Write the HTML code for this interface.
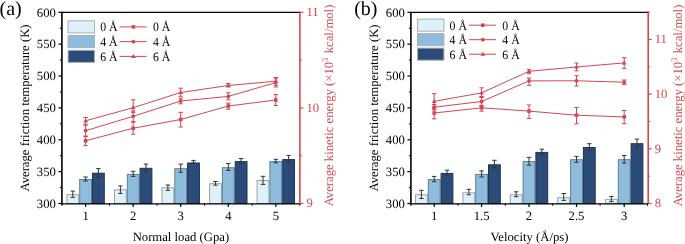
<!DOCTYPE html>
<html><head><meta charset="utf-8"><style>
html,body{margin:0;padding:0;background:#fff;overflow:hidden}
svg{display:block;will-change:transform}
text{font-family:'Liberation Serif', serif;font-size:12.7px;fill:#000;text-rendering:geometricPrecision}
</style></head><body>
<svg width="685" height="244" viewBox="0 0 685 244">

<rect x="66.90" y="194.70" width="11.80" height="8.80" fill="#dff1f8" stroke="#9aa4a8" stroke-width="1"/>
<rect x="79.70" y="179.50" width="11.80" height="24.00" fill="#8ebcdd" stroke="#5f7f98" stroke-width="1"/>
<rect x="92.50" y="173.20" width="11.80" height="30.30" fill="#2b4b79" stroke="#1d3355" stroke-width="1"/>
<path d="M72.80 191.10V197.30M70.60 191.10H75.00M70.60 197.30H75.00" stroke="#333" stroke-width="1" fill="none"/>
<path d="M85.60 177.00V181.00M83.40 177.00H87.80M83.40 181.00H87.80" stroke="#333" stroke-width="1" fill="none"/>
<path d="M98.40 168.60V177.40M96.20 168.60H100.60M96.20 177.40H100.60" stroke="#333" stroke-width="1" fill="none"/>
<rect x="114.50" y="189.80" width="11.80" height="13.70" fill="#dff1f8" stroke="#9aa4a8" stroke-width="1"/>
<rect x="127.30" y="174.40" width="11.80" height="29.10" fill="#8ebcdd" stroke="#5f7f98" stroke-width="1"/>
<rect x="140.10" y="168.30" width="11.80" height="35.20" fill="#2b4b79" stroke="#1d3355" stroke-width="1"/>
<path d="M120.40 186.00V193.40M118.20 186.00H122.60M118.20 193.40H122.60" stroke="#333" stroke-width="1" fill="none"/>
<path d="M133.20 171.30V176.40M131.00 171.30H135.40M131.00 176.40H135.40" stroke="#333" stroke-width="1" fill="none"/>
<path d="M146.00 164.10V171.30M143.80 164.10H148.20M143.80 171.30H148.20" stroke="#333" stroke-width="1" fill="none"/>
<rect x="162.00" y="187.70" width="11.80" height="15.80" fill="#dff1f8" stroke="#9aa4a8" stroke-width="1"/>
<rect x="174.80" y="168.70" width="11.80" height="34.80" fill="#8ebcdd" stroke="#5f7f98" stroke-width="1"/>
<rect x="187.60" y="163.00" width="11.80" height="40.50" fill="#2b4b79" stroke="#1d3355" stroke-width="1"/>
<path d="M167.90 185.00V190.30M165.70 185.00H170.10M165.70 190.30H170.10" stroke="#333" stroke-width="1" fill="none"/>
<path d="M180.70 164.10V172.30M178.50 164.10H182.90M178.50 172.30H182.90" stroke="#333" stroke-width="1" fill="none"/>
<path d="M193.50 160.40V163.00M191.30 160.40H195.70M191.30 163.00H195.70" stroke="#333" stroke-width="1" fill="none"/>
<rect x="209.60" y="183.70" width="11.80" height="19.80" fill="#dff1f8" stroke="#9aa4a8" stroke-width="1"/>
<rect x="222.40" y="167.70" width="11.80" height="35.80" fill="#8ebcdd" stroke="#5f7f98" stroke-width="1"/>
<rect x="235.20" y="161.60" width="11.80" height="41.90" fill="#2b4b79" stroke="#1d3355" stroke-width="1"/>
<path d="M215.50 181.50V185.20M213.30 181.50H217.70M213.30 185.20H217.70" stroke="#333" stroke-width="1" fill="none"/>
<path d="M228.30 163.50V170.40M226.10 163.50H230.50M226.10 170.40H230.50" stroke="#333" stroke-width="1" fill="none"/>
<path d="M241.10 158.60V163.50M238.90 158.60H243.30M238.90 163.50H243.30" stroke="#333" stroke-width="1" fill="none"/>
<rect x="257.10" y="180.50" width="11.80" height="23.00" fill="#dff1f8" stroke="#9aa4a8" stroke-width="1"/>
<rect x="269.90" y="161.60" width="11.80" height="41.90" fill="#8ebcdd" stroke="#5f7f98" stroke-width="1"/>
<rect x="282.70" y="159.60" width="11.80" height="43.90" fill="#2b4b79" stroke="#1d3355" stroke-width="1"/>
<path d="M263.00 176.30V184.40M260.80 176.30H265.20M260.80 184.40H265.20" stroke="#333" stroke-width="1" fill="none"/>
<path d="M275.80 159.30V162.80M273.60 159.30H278.00M273.60 162.80H278.00" stroke="#333" stroke-width="1" fill="none"/>
<path d="M288.60 155.40V162.80M286.40 155.40H290.80M286.40 162.80H290.80" stroke="#333" stroke-width="1" fill="none"/>
<polyline points="85.60,140.80 133.20,128.20 180.70,119.50 228.30,106.00 275.80,100.00" fill="none" stroke="#d24852" stroke-width="1"/>
<path d="M85.60 136.60V145.60M83.40 136.60H87.80M83.40 145.60H87.80" stroke="#d24852" stroke-width="1" fill="none"/>
<rect x="83.80" y="139.00" width="3.6" height="3.6" fill="#d24852"/>
<path d="M133.20 122.20V134.20M131.00 122.20H135.40M131.00 134.20H135.40" stroke="#d24852" stroke-width="1" fill="none"/>
<rect x="131.40" y="126.40" width="3.6" height="3.6" fill="#d24852"/>
<path d="M180.70 112.30V127.00M178.50 112.30H182.90M178.50 127.00H182.90" stroke="#d24852" stroke-width="1" fill="none"/>
<rect x="178.90" y="117.70" width="3.6" height="3.6" fill="#d24852"/>
<path d="M228.30 103.20V109.20M226.10 103.20H230.50M226.10 109.20H230.50" stroke="#d24852" stroke-width="1" fill="none"/>
<rect x="226.50" y="104.20" width="3.6" height="3.6" fill="#d24852"/>
<path d="M275.80 94.60V105.50M273.60 94.60H278.00M273.60 105.50H278.00" stroke="#d24852" stroke-width="1" fill="none"/>
<rect x="274.00" y="98.20" width="3.6" height="3.6" fill="#d24852"/>
<polyline points="85.60,130.70 133.20,116.30 180.70,101.00 228.30,96.40 275.80,82.60" fill="none" stroke="#d24852" stroke-width="1"/>
<path d="M85.60 125.30V136.00M83.40 125.30H87.80M83.40 136.00H87.80" stroke="#d24852" stroke-width="1" fill="none"/>
<circle cx="85.60" cy="130.70" r="1.9" fill="#d24852"/>
<path d="M133.20 111.10V121.50M131.00 111.10H135.40M131.00 121.50H135.40" stroke="#d24852" stroke-width="1" fill="none"/>
<circle cx="133.20" cy="116.30" r="1.9" fill="#d24852"/>
<path d="M180.70 98.20V103.80M178.50 98.20H182.90M178.50 103.80H182.90" stroke="#d24852" stroke-width="1" fill="none"/>
<circle cx="180.70" cy="101.00" r="1.9" fill="#d24852"/>
<path d="M228.30 92.80V99.80M226.10 92.80H230.50M226.10 99.80H230.50" stroke="#d24852" stroke-width="1" fill="none"/>
<circle cx="228.30" cy="96.40" r="1.9" fill="#d24852"/>
<path d="M275.80 78.20V87.00M273.60 78.20H278.00M273.60 87.00H278.00" stroke="#d24852" stroke-width="1" fill="none"/>
<circle cx="275.80" cy="82.60" r="1.9" fill="#d24852"/>
<polyline points="85.60,120.80 133.20,107.70 180.70,92.50 228.30,85.50 275.80,81.20" fill="none" stroke="#d24852" stroke-width="1"/>
<path d="M85.60 117.50V124.30M83.40 117.50H87.80M83.40 124.30H87.80" stroke="#d24852" stroke-width="1" fill="none"/>
<path d="M85.60 118.40L88.00 122.40L83.20 122.40Z" fill="#d24852"/>
<path d="M133.20 99.80V112.40M131.00 99.80H135.40M131.00 112.40H135.40" stroke="#d24852" stroke-width="1" fill="none"/>
<path d="M133.20 105.30L135.60 109.30L130.80 109.30Z" fill="#d24852"/>
<path d="M180.70 88.20V96.30M178.50 88.20H182.90M178.50 96.30H182.90" stroke="#d24852" stroke-width="1" fill="none"/>
<path d="M180.70 90.10L183.10 94.10L178.30 94.10Z" fill="#d24852"/>
<path d="M228.30 83.50V87.00M226.10 83.50H230.50M226.10 87.00H230.50" stroke="#d24852" stroke-width="1" fill="none"/>
<path d="M228.30 83.10L230.70 87.10L225.90 87.10Z" fill="#d24852"/>
<path d="M275.80 77.50V85.20M273.60 77.50H278.00M273.60 85.20H278.00" stroke="#d24852" stroke-width="1" fill="none"/>
<path d="M275.80 78.80L278.20 82.80L273.40 82.80Z" fill="#d24852"/>
<path d="M61.90 12.35H299.90" stroke="#000" stroke-width="1.2"/>
<path d="M61.90 203.80H299.90" stroke="#000" stroke-width="1.3"/>
<path d="M61.90 11.70V205.50" stroke="#000" stroke-width="1.6"/>
<path d="M299.90 11.60V204.20" stroke="#d24852" stroke-width="1.6"/>
<path d="M58.40 203.50H61.90" stroke="#000" stroke-width="1.2"/>
<text x="55.90" y="207.80" text-anchor="end">300</text>
<path d="M59.90 187.57H61.90" stroke="#000" stroke-width="1"/>
<path d="M58.40 171.63H61.90" stroke="#000" stroke-width="1.2"/>
<text x="55.90" y="175.93" text-anchor="end">350</text>
<path d="M59.90 155.70H61.90" stroke="#000" stroke-width="1"/>
<path d="M58.40 139.77H61.90" stroke="#000" stroke-width="1.2"/>
<text x="55.90" y="144.07" text-anchor="end">400</text>
<path d="M59.90 123.83H61.90" stroke="#000" stroke-width="1"/>
<path d="M58.40 107.90H61.90" stroke="#000" stroke-width="1.2"/>
<text x="55.90" y="112.20" text-anchor="end">450</text>
<path d="M59.90 91.97H61.90" stroke="#000" stroke-width="1"/>
<path d="M58.40 76.03H61.90" stroke="#000" stroke-width="1.2"/>
<text x="55.90" y="80.33" text-anchor="end">500</text>
<path d="M59.90 60.10H61.90" stroke="#000" stroke-width="1"/>
<path d="M58.40 44.17H61.90" stroke="#000" stroke-width="1.2"/>
<text x="55.90" y="48.47" text-anchor="end">550</text>
<path d="M59.90 28.23H61.90" stroke="#000" stroke-width="1"/>
<path d="M58.40 12.30H61.90" stroke="#000" stroke-width="1.2"/>
<text x="55.90" y="16.60" text-anchor="end">600</text>
<path d="M85.60 203.50V207.00" stroke="#000" stroke-width="1.2"/>
<text x="85.60" y="220.00" text-anchor="middle">1</text>
<path d="M133.20 203.50V207.00" stroke="#000" stroke-width="1.2"/>
<text x="133.20" y="220.00" text-anchor="middle">2</text>
<path d="M180.70 203.50V207.00" stroke="#000" stroke-width="1.2"/>
<text x="180.70" y="220.00" text-anchor="middle">3</text>
<path d="M228.30 203.50V207.00" stroke="#000" stroke-width="1.2"/>
<text x="228.30" y="220.00" text-anchor="middle">4</text>
<path d="M275.80 203.50V207.00" stroke="#000" stroke-width="1.2"/>
<text x="275.80" y="220.00" text-anchor="middle">5</text>
<path d="M109.40 203.50V205.70" stroke="#000" stroke-width="1"/>
<path d="M157.00 203.50V205.70" stroke="#000" stroke-width="1"/>
<path d="M204.60 203.50V205.70" stroke="#000" stroke-width="1"/>
<path d="M252.20 203.50V205.70" stroke="#000" stroke-width="1"/>
<path d="M299.80 203.50V205.70" stroke="#000" stroke-width="1"/>
<path d="M299.90 12.30H303.40" stroke="#d24852" stroke-width="1.2"/>
<text x="306.40" y="16.00" style="fill:#d24852">11</text>
<path d="M299.90 107.90H303.40" stroke="#d24852" stroke-width="1.2"/>
<text x="306.40" y="111.60" style="fill:#d24852">10</text>
<path d="M299.90 203.50H303.40" stroke="#d24852" stroke-width="1.2"/>
<text x="306.40" y="207.20" style="fill:#d24852">9</text>
<path d="M299.90 60.10H301.90" stroke="#d24852" stroke-width="1"/>
<path d="M299.90 155.70H301.90" stroke="#d24852" stroke-width="1"/>
<text x="180.90" y="240.8" text-anchor="middle">Normal load (Gpa)</text>
<text transform="translate(29.30 108.00) rotate(-90)" text-anchor="middle">Average friction temperature (K)</text>
<text transform="translate(333.00 105.50) rotate(-90)" text-anchor="middle" style="fill:#d24852">Average kinetic energy (×10<tspan dy="-4.6" style="font-size:8.6px">3</tspan><tspan dy="4.6" dx="1.2"> kcal/mol)</tspan></text>
<text x="-0.50" y="14.90" style="font-size:20px">(a)</text>
<rect x="68.10" y="20.80" width="26.4" height="12.1" fill="#dff1f8" stroke="#a9b0b3" stroke-width="1"/>
<text x="100.20" y="31.20" textLength="17.4" lengthAdjust="spacingAndGlyphs">0 Å</text>
<path d="M119.60 26.90H146.60" stroke="#d24852" stroke-width="1"/>
<rect x="131.60" y="25.10" width="3.6" height="3.6" fill="#d24852"/>
<text x="152.90" y="31.20" textLength="17.4" lengthAdjust="spacingAndGlyphs">0 Å</text>
<rect x="68.10" y="35.55" width="26.4" height="12.1" fill="#8ebcdd" stroke="#a9b0b3" stroke-width="1"/>
<text x="100.20" y="45.95" textLength="17.4" lengthAdjust="spacingAndGlyphs">4 Å</text>
<path d="M119.60 41.65H146.60" stroke="#d24852" stroke-width="1"/>
<circle cx="133.40" cy="41.65" r="1.9" fill="#d24852"/>
<text x="152.90" y="45.95" textLength="17.4" lengthAdjust="spacingAndGlyphs">4 Å</text>
<rect x="68.10" y="50.30" width="26.4" height="12.1" fill="#2b4b79" stroke="#a9b0b3" stroke-width="1"/>
<text x="100.20" y="60.70" textLength="17.4" lengthAdjust="spacingAndGlyphs">6 Å</text>
<path d="M119.60 56.40H146.60" stroke="#d24852" stroke-width="1"/>
<path d="M133.40 54.00L135.80 58.00L131.00 58.00Z" fill="#d24852"/>
<text x="152.90" y="60.70" textLength="17.4" lengthAdjust="spacingAndGlyphs">6 Å</text>
<rect x="415.50" y="194.70" width="11.80" height="8.80" fill="#dff1f8" stroke="#9aa4a8" stroke-width="1"/>
<rect x="428.30" y="179.60" width="11.80" height="23.90" fill="#8ebcdd" stroke="#5f7f98" stroke-width="1"/>
<rect x="441.10" y="173.40" width="11.80" height="30.10" fill="#2b4b79" stroke="#1d3355" stroke-width="1"/>
<path d="M421.40 190.30V198.50M419.20 190.30H423.60M419.20 198.50H423.60" stroke="#333" stroke-width="1" fill="none"/>
<path d="M434.20 176.40V181.70M432.00 176.40H436.40M432.00 181.70H436.40" stroke="#333" stroke-width="1" fill="none"/>
<path d="M447.00 170.20V175.40M444.80 170.20H449.20M444.80 175.40H449.20" stroke="#333" stroke-width="1" fill="none"/>
<rect x="462.90" y="192.80" width="11.80" height="10.70" fill="#dff1f8" stroke="#9aa4a8" stroke-width="1"/>
<rect x="475.70" y="174.40" width="11.80" height="29.10" fill="#8ebcdd" stroke="#5f7f98" stroke-width="1"/>
<rect x="488.50" y="164.80" width="11.80" height="38.70" fill="#2b4b79" stroke="#1d3355" stroke-width="1"/>
<path d="M468.80 189.30V194.80M466.60 189.30H471.00M466.60 194.80H471.00" stroke="#333" stroke-width="1" fill="none"/>
<path d="M481.60 170.90V177.00M479.40 170.90H483.80M479.40 177.00H483.80" stroke="#333" stroke-width="1" fill="none"/>
<path d="M494.40 160.30V167.70M492.20 160.30H496.60M492.20 167.70H496.60" stroke="#333" stroke-width="1" fill="none"/>
<rect x="510.30" y="194.80" width="11.80" height="8.70" fill="#dff1f8" stroke="#9aa4a8" stroke-width="1"/>
<rect x="523.10" y="161.60" width="11.80" height="41.90" fill="#8ebcdd" stroke="#5f7f98" stroke-width="1"/>
<rect x="535.90" y="152.40" width="11.80" height="51.10" fill="#2b4b79" stroke="#1d3355" stroke-width="1"/>
<path d="M516.20 191.80V196.70M514.00 191.80H518.40M514.00 196.70H518.40" stroke="#333" stroke-width="1" fill="none"/>
<path d="M529.00 157.40V165.20M526.80 157.40H531.20M526.80 165.20H531.20" stroke="#333" stroke-width="1" fill="none"/>
<path d="M541.80 149.20V154.50M539.60 149.20H544.00M539.60 154.50H544.00" stroke="#333" stroke-width="1" fill="none"/>
<rect x="557.80" y="197.70" width="11.80" height="5.80" fill="#dff1f8" stroke="#9aa4a8" stroke-width="1"/>
<rect x="570.60" y="159.70" width="11.80" height="43.80" fill="#8ebcdd" stroke="#5f7f98" stroke-width="1"/>
<rect x="583.40" y="147.50" width="11.80" height="56.00" fill="#2b4b79" stroke="#1d3355" stroke-width="1"/>
<path d="M563.70 193.50V200.40M561.50 193.50H565.90M561.50 200.40H565.90" stroke="#333" stroke-width="1" fill="none"/>
<path d="M576.50 156.40V162.30M574.30 156.40H578.70M574.30 162.30H578.70" stroke="#333" stroke-width="1" fill="none"/>
<path d="M589.30 143.70V150.10M587.10 143.70H591.50M587.10 150.10H591.50" stroke="#333" stroke-width="1" fill="none"/>
<rect x="605.50" y="199.40" width="11.80" height="4.10" fill="#dff1f8" stroke="#9aa4a8" stroke-width="1"/>
<rect x="618.30" y="159.70" width="11.80" height="43.80" fill="#8ebcdd" stroke="#5f7f98" stroke-width="1"/>
<rect x="631.10" y="143.70" width="11.80" height="59.80" fill="#2b4b79" stroke="#1d3355" stroke-width="1"/>
<path d="M611.40 196.40V201.60M609.20 196.40H613.60M609.20 201.60H613.60" stroke="#333" stroke-width="1" fill="none"/>
<path d="M624.20 155.50V163.10M622.00 155.50H626.40M622.00 163.10H626.40" stroke="#333" stroke-width="1" fill="none"/>
<path d="M637.00 139.10V147.30M634.80 139.10H639.20M634.80 147.30H639.20" stroke="#333" stroke-width="1" fill="none"/>
<polyline points="434.20,113.00 481.60,107.80 529.00,111.10 576.50,115.20 624.20,116.90" fill="none" stroke="#d24852" stroke-width="1"/>
<path d="M434.20 107.10V118.90M432.00 107.10H436.40M432.00 118.90H436.40" stroke="#d24852" stroke-width="1" fill="none"/>
<rect x="432.40" y="111.20" width="3.6" height="3.6" fill="#d24852"/>
<path d="M481.60 105.40V111.10M479.40 105.40H483.80M479.40 111.10H483.80" stroke="#d24852" stroke-width="1" fill="none"/>
<rect x="479.80" y="106.00" width="3.6" height="3.6" fill="#d24852"/>
<path d="M529.00 105.00V118.50M526.80 105.00H531.20M526.80 118.50H531.20" stroke="#d24852" stroke-width="1" fill="none"/>
<rect x="527.20" y="109.30" width="3.6" height="3.6" fill="#d24852"/>
<path d="M576.50 107.50V123.80M574.30 107.50H578.70M574.30 123.80H578.70" stroke="#d24852" stroke-width="1" fill="none"/>
<rect x="574.70" y="113.40" width="3.6" height="3.6" fill="#d24852"/>
<path d="M624.20 110.50V123.70M622.00 110.50H626.40M622.00 123.70H626.40" stroke="#d24852" stroke-width="1" fill="none"/>
<rect x="622.40" y="115.10" width="3.6" height="3.6" fill="#d24852"/>
<polyline points="434.20,107.20 481.60,101.50 529.00,80.90 576.50,80.80 624.20,82.20" fill="none" stroke="#d24852" stroke-width="1"/>
<path d="M434.20 104.50V109.90M432.00 104.50H436.40M432.00 109.90H436.40" stroke="#d24852" stroke-width="1" fill="none"/>
<circle cx="434.20" cy="107.20" r="1.9" fill="#d24852"/>
<path d="M481.60 96.50V106.00M479.40 96.50H483.80M479.40 106.00H483.80" stroke="#d24852" stroke-width="1" fill="none"/>
<circle cx="481.60" cy="101.50" r="1.9" fill="#d24852"/>
<path d="M529.00 78.00V85.30M526.80 78.00H531.20M526.80 85.30H531.20" stroke="#d24852" stroke-width="1" fill="none"/>
<circle cx="529.00" cy="80.90" r="1.9" fill="#d24852"/>
<path d="M576.50 75.70V86.00M574.30 75.70H578.70M574.30 86.00H578.70" stroke="#d24852" stroke-width="1" fill="none"/>
<circle cx="576.50" cy="80.80" r="1.9" fill="#d24852"/>
<path d="M624.20 80.00V84.40M622.00 80.00H626.40M622.00 84.40H626.40" stroke="#d24852" stroke-width="1" fill="none"/>
<circle cx="624.20" cy="82.20" r="1.9" fill="#d24852"/>
<polyline points="434.20,101.30 481.60,92.90 529.00,71.30 576.50,67.00 624.20,62.90" fill="none" stroke="#d24852" stroke-width="1"/>
<path d="M434.20 93.70V108.90M432.00 93.70H436.40M432.00 108.90H436.40" stroke="#d24852" stroke-width="1" fill="none"/>
<path d="M434.20 98.90L436.60 102.90L431.80 102.90Z" fill="#d24852"/>
<path d="M481.60 87.80V97.50M479.40 87.80H483.80M479.40 97.50H483.80" stroke="#d24852" stroke-width="1" fill="none"/>
<path d="M481.60 90.50L484.00 94.50L479.20 94.50Z" fill="#d24852"/>
<path d="M529.00 69.40V73.80M526.80 69.40H531.20M526.80 73.80H531.20" stroke="#d24852" stroke-width="1" fill="none"/>
<path d="M529.00 68.90L531.40 72.90L526.60 72.90Z" fill="#d24852"/>
<path d="M576.50 63.00V70.80M574.30 63.00H578.70M574.30 70.80H578.70" stroke="#d24852" stroke-width="1" fill="none"/>
<path d="M576.50 64.60L578.90 68.60L574.10 68.60Z" fill="#d24852"/>
<path d="M624.20 57.70V68.40M622.00 57.70H626.40M622.00 68.40H626.40" stroke="#d24852" stroke-width="1" fill="none"/>
<path d="M624.20 60.50L626.60 64.50L621.80 64.50Z" fill="#d24852"/>
<path d="M410.90 12.35H648.20" stroke="#000" stroke-width="1.2"/>
<path d="M410.90 203.80H648.20" stroke="#000" stroke-width="1.3"/>
<path d="M410.90 11.70V205.50" stroke="#000" stroke-width="1.6"/>
<path d="M648.20 11.60V204.20" stroke="#d24852" stroke-width="1.6"/>
<path d="M407.40 203.50H410.90" stroke="#000" stroke-width="1.2"/>
<text x="404.90" y="207.80" text-anchor="end">300</text>
<path d="M408.90 187.57H410.90" stroke="#000" stroke-width="1"/>
<path d="M407.40 171.63H410.90" stroke="#000" stroke-width="1.2"/>
<text x="404.90" y="175.93" text-anchor="end">350</text>
<path d="M408.90 155.70H410.90" stroke="#000" stroke-width="1"/>
<path d="M407.40 139.77H410.90" stroke="#000" stroke-width="1.2"/>
<text x="404.90" y="144.07" text-anchor="end">400</text>
<path d="M408.90 123.83H410.90" stroke="#000" stroke-width="1"/>
<path d="M407.40 107.90H410.90" stroke="#000" stroke-width="1.2"/>
<text x="404.90" y="112.20" text-anchor="end">450</text>
<path d="M408.90 91.97H410.90" stroke="#000" stroke-width="1"/>
<path d="M407.40 76.03H410.90" stroke="#000" stroke-width="1.2"/>
<text x="404.90" y="80.33" text-anchor="end">500</text>
<path d="M408.90 60.10H410.90" stroke="#000" stroke-width="1"/>
<path d="M407.40 44.17H410.90" stroke="#000" stroke-width="1.2"/>
<text x="404.90" y="48.47" text-anchor="end">550</text>
<path d="M408.90 28.23H410.90" stroke="#000" stroke-width="1"/>
<path d="M407.40 12.30H410.90" stroke="#000" stroke-width="1.2"/>
<text x="404.90" y="16.60" text-anchor="end">600</text>
<path d="M434.20 203.50V207.00" stroke="#000" stroke-width="1.2"/>
<text x="434.20" y="220.00" text-anchor="middle">1</text>
<path d="M481.60 203.50V207.00" stroke="#000" stroke-width="1.2"/>
<text x="481.60" y="220.00" text-anchor="middle">1.5</text>
<path d="M529.00 203.50V207.00" stroke="#000" stroke-width="1.2"/>
<text x="529.00" y="220.00" text-anchor="middle">2</text>
<path d="M576.50 203.50V207.00" stroke="#000" stroke-width="1.2"/>
<text x="576.50" y="220.00" text-anchor="middle">2.5</text>
<path d="M624.20 203.50V207.00" stroke="#000" stroke-width="1.2"/>
<text x="624.20" y="220.00" text-anchor="middle">3</text>
<path d="M457.90 203.50V205.70" stroke="#000" stroke-width="1"/>
<path d="M505.30 203.50V205.70" stroke="#000" stroke-width="1"/>
<path d="M552.70 203.50V205.70" stroke="#000" stroke-width="1"/>
<path d="M600.10 203.50V205.70" stroke="#000" stroke-width="1"/>
<path d="M647.50 203.50V205.70" stroke="#000" stroke-width="1"/>
<path d="M648.20 39.50H651.70" stroke="#d24852" stroke-width="1.2"/>
<text x="654.70" y="43.20" style="fill:#d24852">11</text>
<path d="M648.20 94.10H651.70" stroke="#d24852" stroke-width="1.2"/>
<text x="654.70" y="97.80" style="fill:#d24852">10</text>
<path d="M648.20 148.80H651.70" stroke="#d24852" stroke-width="1.2"/>
<text x="654.70" y="152.50" style="fill:#d24852">9</text>
<path d="M648.20 203.50H651.70" stroke="#d24852" stroke-width="1.2"/>
<text x="654.70" y="207.20" style="fill:#d24852">8</text>
<path d="M648.20 12.31H650.20" stroke="#d24852" stroke-width="1"/>
<path d="M648.20 66.80H650.20" stroke="#d24852" stroke-width="1"/>
<path d="M648.20 121.50H650.20" stroke="#d24852" stroke-width="1"/>
<path d="M648.20 176.20H650.20" stroke="#d24852" stroke-width="1"/>
<text x="529.55" y="240.8" text-anchor="middle">Velocity (Å/ps)</text>
<text transform="translate(378.20 108.00) rotate(-90)" text-anchor="middle">Average friction temperature (K)</text>
<text transform="translate(681.50 105.50) rotate(-90)" text-anchor="middle" style="fill:#d24852">Average kinetic energy (×10<tspan dy="-4.6" style="font-size:8.6px">3</tspan><tspan dy="4.6" dx="1.2"> kcal/mol)</tspan></text>
<text x="354.20" y="14.90" style="font-size:20px">(b)</text>
<rect x="417.50" y="19.10" width="26.4" height="12.1" fill="#dff1f8" stroke="#a9b0b3" stroke-width="1"/>
<text x="449.60" y="29.50" textLength="17.4" lengthAdjust="spacingAndGlyphs">0 Å</text>
<path d="M469.00 25.20H496.00" stroke="#d24852" stroke-width="1"/>
<rect x="481.00" y="23.40" width="3.6" height="3.6" fill="#d24852"/>
<text x="502.30" y="29.50" textLength="17.4" lengthAdjust="spacingAndGlyphs">0 Å</text>
<rect x="417.50" y="33.60" width="26.4" height="12.1" fill="#8ebcdd" stroke="#a9b0b3" stroke-width="1"/>
<text x="449.60" y="44.00" textLength="17.4" lengthAdjust="spacingAndGlyphs">4 Å</text>
<path d="M469.00 39.70H496.00" stroke="#d24852" stroke-width="1"/>
<circle cx="482.80" cy="39.70" r="1.9" fill="#d24852"/>
<text x="502.30" y="44.00" textLength="17.4" lengthAdjust="spacingAndGlyphs">4 Å</text>
<rect x="417.50" y="48.10" width="26.4" height="12.1" fill="#2b4b79" stroke="#a9b0b3" stroke-width="1"/>
<text x="449.60" y="58.50" textLength="17.4" lengthAdjust="spacingAndGlyphs">6 Å</text>
<path d="M469.00 54.20H496.00" stroke="#d24852" stroke-width="1"/>
<path d="M482.80 51.80L485.20 55.80L480.40 55.80Z" fill="#d24852"/>
<text x="502.30" y="58.50" textLength="17.4" lengthAdjust="spacingAndGlyphs">6 Å</text>
</svg>
</body></html>
